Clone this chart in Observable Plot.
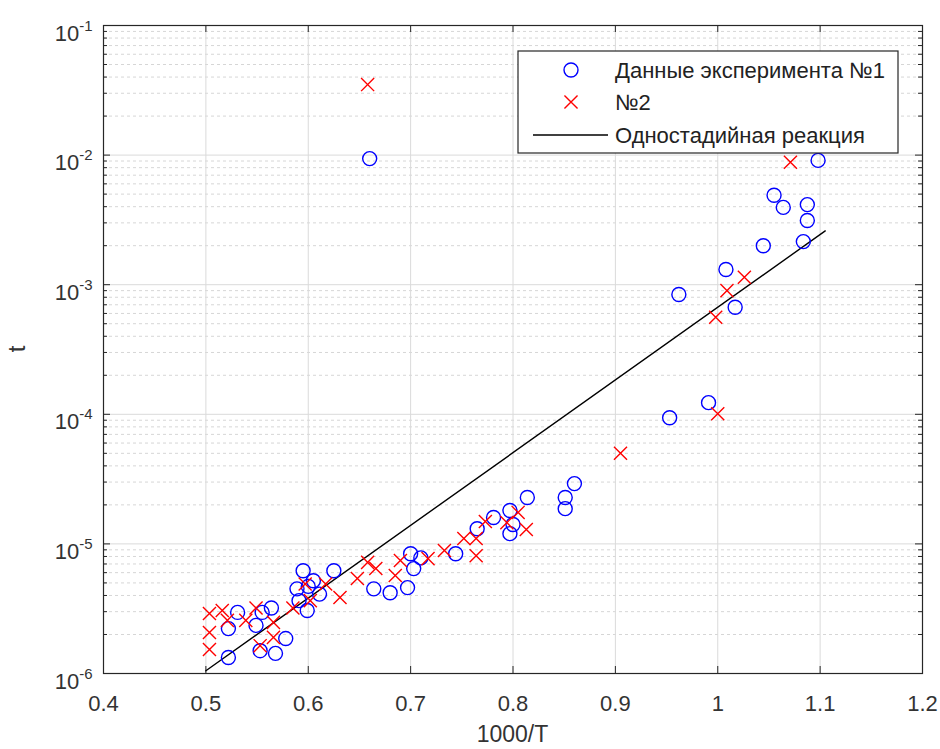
<!DOCTYPE html>
<html>
<head>
<meta charset="utf-8">
<script src="https://cdn.jsdelivr.net/npm/d3@7"></script>
<script src="https://cdn.jsdelivr.net/npm/@observablehq/plot@0.6"></script>
<style>
  html, body { margin: 0; padding: 0; background: #fff; }
  #chart { position: relative; width: 940px; height: 749px; }
</style>
</head>
<body>
<div id="chart"></div>
<script>
// ---- Data ----
const exp1X = [0.660, 1.098, 1.055, 1.064, 1.0875, 1.0875, 1.0836, 1.0445, 1.008, 0.962, 1.017,
  0.991, 0.953, 0.860, 0.851, 0.851, 0.814, 0.797, 0.800, 0.797, 0.781, 0.765, 0.744,
  0.710, 0.700, 0.703, 0.697, 0.680, 0.664, 0.625, 0.611, 0.605, 0.595, 0.589, 0.591,
  0.599, 0.600, 0.578, 0.568, 0.564, 0.555, 0.549, 0.553, 0.531, 0.522, 0.522];
const exp1Y = [9.4e-3, 9.1e-3, 4.9e-3, 3.95e-3, 4.15e-3, 3.13e-3, 2.15e-3, 2.0e-3, 1.31e-3, 8.4e-4, 6.7e-4,
  1.23e-4, 9.4e-5, 2.92e-5, 2.28e-5, 1.87e-5, 2.28e-5, 1.81e-5, 1.41e-5, 1.20e-5, 1.60e-5, 1.31e-5, 8.4e-6,
  7.8e-6, 8.4e-6, 6.45e-6, 4.6e-6, 4.2e-6, 4.5e-6, 6.2e-6, 4.1e-6, 5.2e-6, 6.2e-6, 4.5e-6, 3.65e-6,
  3.06e-6, 4.7e-6, 1.86e-6, 1.43e-6, 3.2e-6, 2.96e-6, 2.35e-6, 1.5e-6, 2.96e-6, 2.22e-6, 1.33e-6];

const exp2X = [0.658, 1.071, 1.026, 1.009, 0.998, 1.000, 0.905, 0.813, 0.805, 0.794, 0.773, 0.764,
  0.764, 0.752, 0.733, 0.717, 0.690, 0.685, 0.666, 0.658, 0.648, 0.631, 0.617, 0.597, 0.602,
  0.585, 0.566, 0.566, 0.549, 0.553, 0.539, 0.516, 0.521, 0.5035, 0.5035, 0.5035];
const exp2Y = [3.5e-2, 8.8e-3, 1.14e-3, 9.0e-4, 5.6e-4, 1.01e-4, 5.0e-5, 1.29e-5, 1.75e-5, 1.46e-5, 1.49e-5, 1.10e-5,
  8.1e-6, 1.10e-5, 8.9e-6, 7.7e-6, 7.45e-6, 5.7e-6, 6.45e-6, 7.2e-6, 5.4e-6, 3.86e-6, 4.9e-6, 4.9e-6, 3.65e-6,
  3.2e-6, 1.9e-6, 2.48e-6, 3.2e-6, 1.64e-6, 2.57e-6, 3.06e-6, 2.57e-6, 2.9e-6, 2.07e-6, 1.53e-6];

// single-stage reaction line endpoints
const fitX = [0.5, 1.105];
const fitY = [1.05e-6, 2.6e-3];

// axis ticks
const xTicks = [0.4, 0.5, 0.6, 0.7, 0.8, 0.9, 1.0, 1.1, 1.2];
const xTickLabels = ["0.4", "0.5", "0.6", "0.7", "0.8", "0.9", "1", "1.1", "1.2"];
const yDecades = [1e-6, 1e-5, 1e-4, 1e-3, 1e-2, 1e-1];
const yMinor = [];
for (let e = -6; e < -1; e++) for (let k = 2; k <= 9; k++) yMinor.push(k * Math.pow(10, e));

const legendLabels = ["Данные эксперимента №1", "№2", "Одностадийная реакция"];

const exp1 = exp1X.map((x, i) => ({x, y: exp1Y[i]}));
const exp2 = exp2X.map((x, i) => ({x, y: exp2Y[i]}));
const fit = fitX.map((x, i) => ({x, y: fitY[i]}));

const W = 940, H = 749, mL = 103, mR = 18, mT = 25, mB = 76;
const fw = W - mL - mR, fh = H - mT - mB;
const axisColor = "#262626";
const BLUE = "#0000ff", RED = "#ff0000";

const chart = Plot.plot({
  width: W, height: H,
  marginLeft: mL, marginRight: mR, marginTop: mT, marginBottom: mB,
  style: {fontFamily: "'Liberation Sans', Arial, Helvetica, sans-serif", fontSize: "22px", color: "#333", background: "#fff", overflow: "visible"},
  x: {domain: [0.4, 1.2]},
  y: {type: "log", domain: [1e-6, 1e-1]},
  marks: [
    Plot.ruleY(yMinor, {stroke: "#d6d6d6", strokeDasharray: "3,3", strokeWidth: 1}),
    Plot.ruleX(xTicks, {stroke: "#dadada", strokeWidth: 1}),
    Plot.ruleY(yDecades, {stroke: "#dadada", strokeWidth: 1}),
    // inward ticks
    Plot.ruleX(xTicks, {insetTop: fh - 7, stroke: axisColor}),
    Plot.ruleX(xTicks, {insetBottom: fh - 7, stroke: axisColor}),
    Plot.ruleY(yDecades, {insetRight: fw - 7, stroke: axisColor}),
    Plot.ruleY(yDecades, {insetLeft: fw - 7, stroke: axisColor}),
    Plot.ruleY(yMinor, {insetRight: fw - 4, stroke: axisColor}),
    Plot.ruleY(yMinor, {insetLeft: fw - 4, stroke: axisColor}),
    Plot.line(fit, {x: "x", y: "y", stroke: "#000", strokeWidth: 1.4}),
    Plot.dot(exp1, {x: "x", y: "y", r: 7, stroke: BLUE, strokeWidth: 1.4, fill: "none"}),
    Plot.dot(exp2, {x: "x", y: "y", r: 6, symbol: "times", stroke: RED, strokeWidth: 1.4}),
    Plot.frame({stroke: axisColor, strokeWidth: 1.2}),
    Plot.axisX({ticks: xTicks, tickSize: 0, tickPadding: 22, label: null,
      tickFormat: d => xTickLabels[xTicks.findIndex(t => Math.abs(t - d) < 1e-9)]}),
    Plot.axisY({ticks: yDecades, tickSize: 0, tickPadding: 11, label: null,
      tickFormat: d => "10^" + Math.round(Math.log10(d))})
  ]
});

document.getElementById("chart").appendChild(chart);

const svg = d3.select(chart);
// y tick labels with superscripts
svg.selectAll("text").each(function() {
  const t = d3.select(this);
  const s = t.text();
  if (/^10\^-?\d+$/.test(s)) {
    const exp = s.split("^")[1];
    t.text(null).attr("dy", null).attr("y", null);
    t.append("tspan").attr("dy", "15").text("10");
    t.append("tspan").attr("dy", "-10").attr("font-size", "15px").text(exp);
  }
});

// axis titles
svg.append("text").attr("x", mL + fw / 2).attr("y", 742).attr("text-anchor", "middle")
  .attr("fill", "#333").attr("font-size", "23px").text("1000/T");
svg.append("text").attr("transform", `translate(25,${mT + fh / 2}) rotate(-90)`)
  .attr("text-anchor", "middle").attr("fill", "#333").attr("font-size", "24px").text("t");

// legend
const lg = svg.append("g").attr("transform", "translate(518,51)").attr("text-anchor", "start");
lg.append("rect").attr("width", 380).attr("height", 102).attr("fill", "#fff")
  .attr("stroke", axisColor).attr("stroke-width", 1.2);
const rows = [19, 51, 84];
lg.append("circle").attr("cx", 53).attr("cy", rows[0]).attr("r", 7)
  .attr("fill", "none").attr("stroke", BLUE).attr("stroke-width", 1.4);
lg.append("path").attr("d", d3.symbol(d3.symbolTimes, 113)())
  .attr("transform", `translate(53,${rows[1]})`).attr("fill", "none")
  .attr("stroke", RED).attr("stroke-width", 1.4);
lg.append("line").attr("x1", 15).attr("x2", 90).attr("y1", rows[2]).attr("y2", rows[2])
  .attr("stroke", "#000").attr("stroke-width", 1.4);
legendLabels.forEach((s, i) => {
  lg.append("text").attr("x", 97).attr("y", rows[i]).attr("dy", "0.35em")
    .attr("text-anchor", "start").attr("fill", "#222").attr("font-size", "22px").text(s);
});
</script>
</body>
</html>
